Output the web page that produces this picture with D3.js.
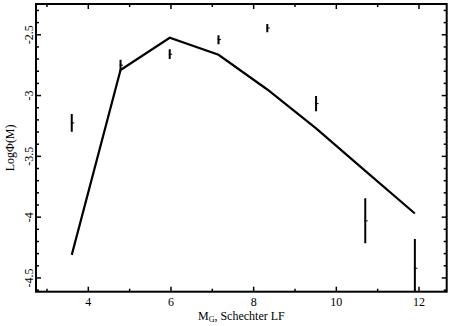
<!DOCTYPE html>
<html>
<head>
<meta charset="utf-8">
<script src="https://cdn.jsdelivr.net/npm/d3@7"></script>
<style>
  body { margin: 0; background: #fff; }
  text { font-family: "Liberation Serif", "DejaVu Serif", serif; fill: #000; }
</style>
</head>
<body>
<script>
// Data
const magBins = [3.6, 4.78, 5.97, 7.15, 8.33, 9.51, 10.7, 11.9];
const obsLogPhi = [-3.225, -2.75, -2.66, -2.54, -2.445, -3.066, -4.03, -4.42];
const obsErr = [0.073, 0.045, 0.04, 0.037, 0.034, 0.062, 0.185, 0.24];
const schechterLogPhi = [-4.31, -2.79, -2.525, -2.665, -2.95, -3.27, -3.62, -3.97];
const xMajorTicks = [4, 6, 8, 10, 12];
const yMajorTicks = [-2.5, -3, -3.5, -4, -4.5];

const width = 456, height = 326;
const margin = { left: 36, right: 9.3, top: 4, bottom: 34.3 };

const svg = d3.select("body").append("svg")
    .attr("width", width)
    .attr("height", height);

const x = d3.scaleLinear()
    .domain([2.735, 12.67])
    .range([margin.left, width - margin.right]);

const y = d3.scaleLinear()
    .domain([-4.613, -2.247])
    .range([height - margin.bottom, margin.top]);

const [x0, x1] = x.range();
const [y1, y0] = y.range();

svg.append("clipPath").attr("id", "plot")
    .append("rect")
    .attr("x", x0).attr("y", y0)
    .attr("width", x1 - x0).attr("height", y1 - y0);

// minor tick values
const xMinor = d3.range(3, 13, 1).filter(v => v % 2 !== 0);
const yMinor = d3.range(-46, -22, 1).map(v => v / 10).filter(v => Math.abs(v * 2 - Math.round(v * 2)) > 1e-6);

// inward ticks on all four sides
const tickG = svg.append("g").attr("stroke", "#000").attr("stroke-width", 1.5);
function ticks(vals, len, side) {
    vals.forEach(v => {
        if (side === "bottom") tickG.append("line").attr("x1", x(v)).attr("x2", x(v)).attr("y1", y1).attr("y2", y1 - len);
        if (side === "top") tickG.append("line").attr("x1", x(v)).attr("x2", x(v)).attr("y1", y0).attr("y2", y0 + len);
        if (side === "left") tickG.append("line").attr("y1", y(v)).attr("y2", y(v)).attr("x1", x0).attr("x2", x0 + len);
        if (side === "right") tickG.append("line").attr("y1", y(v)).attr("y2", y(v)).attr("x1", x1).attr("x2", x1 - len);
    });
}
["bottom", "top"].forEach(s => { ticks(xMajorTicks, 5, s); ticks(xMinor, 3, s); });
["left", "right"].forEach(s => { ticks(yMajorTicks, 5, s); ticks(yMinor, 3, s); });

// frame
svg.append("rect")
    .attr("x", x0).attr("y", y0)
    .attr("width", x1 - x0).attr("height", y1 - y0)
    .attr("fill", "none")
    .attr("stroke", "#000")
    .attr("stroke-width", 2);

// tick labels
svg.append("g").selectAll("text")
    .data(xMajorTicks)
    .enter().append("text")
    .attr("x", d => x(d))
    .attr("y", y1 + 14)
    .attr("text-anchor", "middle")
    .attr("font-size", 12)
    .text(d => d);

svg.append("g").selectAll("text")
    .data(yMajorTicks)
    .enter().append("text")
    .attr("transform", d => `translate(${x0 - 3},${y(d)}) rotate(-90)`)
    .attr("text-anchor", "middle")
    .attr("font-size", 12)
    .text(d => d);

// axis titles
const xt = svg.append("text")
    .attr("x", (x0 + x1) / 2)
    .attr("y", 320)
    .attr("text-anchor", "middle")
    .attr("font-size", 12);
xt.append("tspan").text("M");
xt.append("tspan").attr("font-size", 8).attr("dy", 2).text("G");
xt.append("tspan").attr("dy", -2).text(", Schechter LF");

svg.append("text")
    .attr("transform", `translate(14,${(y0 + y1) / 2}) rotate(-90)`)
    .attr("text-anchor", "middle")
    .attr("font-size", 12)
    .text("LogΦ(M)");

const plot = svg.append("g").attr("clip-path", "url(#plot)");

// Schechter model line
const line = d3.line()
    .x((d, i) => x(magBins[i]))
    .y(d => y(d));

plot.append("path")
    .datum(schechterLogPhi)
    .attr("d", line)
    .attr("fill", "none")
    .attr("stroke", "#000")
    .attr("stroke-width", 2.2)
    .attr("stroke-linejoin", "miter");

// observed points with error bars
const obs = magBins.map((m, i) => ({ m: m, v: obsLogPhi[i], e: obsErr[i] }));

plot.append("g").selectAll("line")
    .data(obs)
    .enter().append("line")
    .attr("x1", d => x(d.m)).attr("x2", d => x(d.m))
    .attr("y1", d => y(d.v + d.e)).attr("y2", d => y(d.v - d.e))
    .attr("stroke", "#000")
    .attr("stroke-width", 2);

plot.append("g").selectAll("line")
    .data(obs)
    .enter().append("line")
    .attr("x1", d => x(d.m) - 1).attr("x2", d => x(d.m) + 2.5)
    .attr("y1", d => y(d.v)).attr("y2", d => y(d.v))
    .attr("stroke", "#000")
    .attr("stroke-width", 1);
</script>
</body>
</html>
